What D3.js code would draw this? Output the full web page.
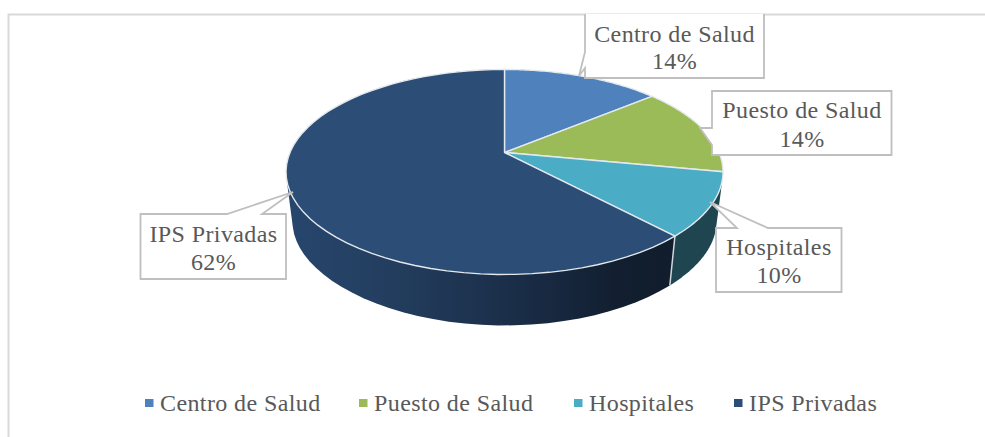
<!DOCTYPE html>
<html><head><meta charset="utf-8">
<script src="https://cdn.jsdelivr.net/npm/d3@7"></script>
<style>html,body{margin:0;padding:0;background:#fff}svg{display:block}text{font-family:"Liberation Serif",serif;fill:#595959}</style>
</head><body><div id="c"></div>
<script>
const categories = ["Centro de Salud","Puesto de Salud","Hospitales","IPS Privadas"];
const values = [14,14,10,62];
const colors = ["#4f81bd","#9bbb59","#4bacc6","#2c4d75"];
const wallColors = ["#2f4d71","#5d7036","#1f4650","url(#wall)"];

const W=985,H=437;
const svg=d3.select("#c").append("svg").attr("width",W).attr("height",H);

// frame
svg.append("path").attr("d",`M8.5,${H}V14.5H${W}`).attr("fill","none").attr("stroke","#d9d9d9").attr("stroke-width",2);

const defs=svg.append("defs");
const grad=defs.append("linearGradient").attr("id","wall").attr("gradientUnits","userSpaceOnUse")
  .attr("x1",290).attr("x2",672).attr("y1",0).attr("y2",0);
[[0,"#27466d"],[.3,"#223c5c"],[.6,"#1a2d47"],[.85,"#121f30"],[1,"#111d2c"]].forEach(s=>grad.append("stop").attr("offset",s[0]).attr("stop-color",s[1]));

// perspective projection of the pie disc
const cx=504.5,cy=152.5,k=0.19,a=98.8,b=214.5,depth=51,shrink=0.97,k2=0.24,a2=92.7;
const project=(t,lower)=>{
  const x=Math.sin(t),y=-Math.cos(t),d=1-k*y;
  if(lower) return [cx+shrink*b*x/d, cy+depth+a2*y/(1-k2*y)];
  return [cx+b*x/d, cy+a*y/d];
};
const arcs=d3.pie().value(d=>d).sort(null)(values);
const line=d3.line();
const samples=(s,e)=>d3.range(0,61).map(i=>s+(e-s)*i/60);

// side wall: hull of the upper and lower rims gives the straight silhouette edges
const wallG=svg.append("g");
arcs.forEach((A,i)=>{
  const ts=samples(A.startAngle,A.endAngle);
  const pts=ts.map(t=>project(t,false)).concat(ts.map(t=>project(t,true)));
  wallG.append("path").attr("d",line(d3.polygonHull(pts))+"Z").attr("fill",wallColors[i]);
});
// seams on the visible part of the wall
arcs.filter(A=>-Math.cos(A.startAngle)>0.5).forEach(A=>{
  wallG.append("path").attr("d",line([project(A.startAngle,false),project(A.startAngle,true)]))
    .attr("stroke","#cfd6dc").attr("stroke-width",1.5).attr("fill","none");
});
// top face
const topG=svg.append("g");
arcs.forEach((A,i)=>{
  const pts=[[cx,cy]].concat(samples(A.startAngle,A.endAngle).map(t=>project(t,false)));
  topG.append("path").attr("d",line(pts)+"Z").attr("fill",colors[i])
    .attr("stroke","#e4e9ee").attr("stroke-width",1.4).attr("stroke-linejoin","round");
});

// callouts
const callouts=[
 {d:"M585,14V52L579,76L585,68V78H764V14", x:674.5, y:[41.5,69]},
 {d:"M712,91V128H700L712,145V155H891.5V91Z", x:802, y:[118,146.5]},
 {d:"M716,228H737L710,202L768,228H841.5V292H716Z", x:779, y:[255,283]},
 {d:"M140.5,214H227L293,192L262,214H286V279H140.5Z", x:213.5, y:[242,270]}
];
const fs=24, ls=0.4;
callouts.forEach((c,i)=>{
  svg.append("path").attr("d",c.d).attr("fill","#fff").attr("stroke","#bfbfbf").attr("stroke-width",1.8).attr("stroke-linejoin","miter");
  [categories[i],values[i]+"%"].forEach((s,j)=>{
    svg.append("text").attr("x",c.x).attr("y",c.y[j]).attr("text-anchor","middle")
      .attr("font-size",fs).attr("letter-spacing",ls).text(s);
  });
});

// legend
const legendX=[145,359,574,734];
categories.forEach((n,i)=>{
  svg.append("rect").attr("x",legendX[i]).attr("y",399).attr("width",8.5).attr("height",8).attr("fill",colors[i]);
  svg.append("text").attr("x",legendX[i]+15).attr("y",411).attr("font-size",fs).attr("letter-spacing",ls).text(n);
});
</script></body></html>
